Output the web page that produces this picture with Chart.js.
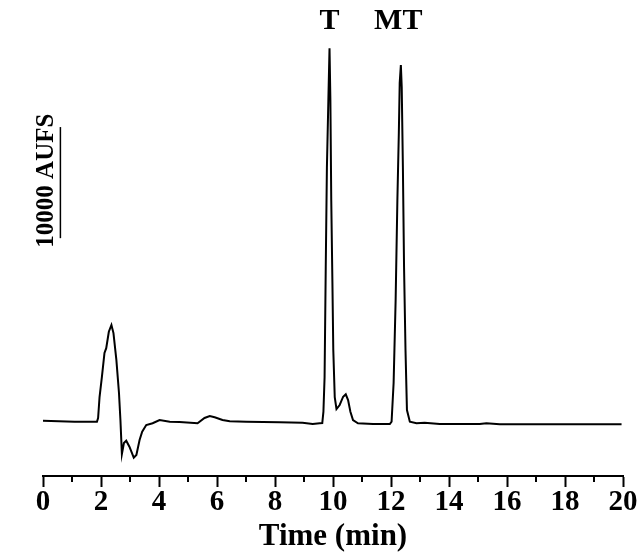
<!DOCTYPE html>
<html>
<head>
<meta charset="utf-8">
<title>Chromatogram</title>
<script src="https://cdn.jsdelivr.net/npm/chart.js@4.4.1/dist/chart.umd.min.js"></script>
<style>
  html, body { margin: 0; padding: 0; background: #fff; }
  #wrap { width: 640px; height: 554px; }
</style>
</head>
<body>
<div id="wrap"><canvas id="chrom"></canvas></div>
<script>
// retention time (min) and detector signal (AUFS)
const times = [0.00, 1.09, 1.86, 1.90, 1.95, 2.03, 2.12, 2.18, 2.27, 2.36, 2.43, 2.53, 2.62, 2.67,
  2.72, 2.79, 2.87, 2.98, 3.13, 3.22, 3.33, 3.42, 3.56, 3.78, 4.02, 4.37, 4.71, 5.33, 5.57,
  5.75, 5.92, 6.19, 6.44, 7.01, 8.16, 8.95, 9.30, 9.54, 9.63, 9.67, 9.71, 9.75, 9.79, 9.84,
  9.88, 9.91, 9.94, 9.98, 10.01, 10.06, 10.12, 10.23, 10.35, 10.44, 10.52, 10.60, 10.69,
  10.86, 11.38, 11.96, 12.02, 12.09, 12.16, 12.22, 12.27, 12.30, 12.34, 12.37, 12.41, 12.45,
  12.50, 12.55, 12.65, 12.88, 13.16, 13.68, 15.06, 15.29, 15.75, 19.95];
const signal = [70, -20, -20, 300, 2200, 4000, 6170, 6600, 8080, 8690, 7960, 5540, 2570, 135,
  -2925, -1935, -1730, -2270, -3260, -3015, -1665, -920, -315, -160, 135, -20, -45, -160, 315,
  495, 380, 135, 20, -20, -70, -110, -225, -160, -135, 880, 4000, 13900, 22900, 28900,
  33600, 28900, 19900, 12465, 6435, 2200, 1125, 1485, 2230, 2450, 1935, 880, 135,
  -160, -225, -225, -20, 3465, 10935, 19935, 25965, 30465, 32085, 30105, 22905, 13905,
  6435, 1035, -20, -160, -120, -225, -225, -160, -250, -250];

const xTicks = [0, 2, 4, 6, 8, 10, 12, 14, 16, 18, 20];
const minorTicks = [1, 3, 5, 7, 9, 11, 13, 15, 17, 19];

const peakNames = ['T', 'MT'];
const peakTimes = [9.88, 12.25];

const scaleBar = [16500, 26500];   // 10000 AUFS
const scaleBarLabel = '10000 AUFS';

const serif = '"Liberation Serif", "Times New Roman", serif';

const points = times.map((t, i) => ({ x: t, y: signal[i] }));

// short ticks at the odd minutes
const minorTickPlugin = {
  id: 'minorTicks',
  afterDraw(chart) {
    const ctx = chart.ctx;
    const xs = chart.scales.x;
    const y0 = chart.chartArea.bottom;
    ctx.save();
    ctx.strokeStyle = '#000';
    ctx.lineWidth = 2;
    minorTicks.forEach(v => {
      const px = xs.getPixelForValue(v);
      ctx.beginPath();
      ctx.moveTo(px, y0);
      ctx.lineTo(px, y0 + 6);
      ctx.stroke();
    });
    ctx.restore();
  }
};

// peak names and the AUFS scale bar
const labelPlugin = {
  id: 'peakLabels',
  afterDraw(chart) {
    const ctx = chart.ctx;
    const xs = chart.scales.x;
    const ys = chart.scales.y;
    ctx.save();
    ctx.fillStyle = '#000';
    ctx.font = 'bold 30px ' + serif;
    ctx.textAlign = 'center';
    ctx.textBaseline = 'middle';
    peakNames.forEach((name, i) => {
      ctx.fillText(name, xs.getPixelForValue(peakTimes[i]), 21);
    });

    const barX = xs.getPixelForValue(0.6);
    const yA = ys.getPixelForValue(scaleBar[0]);
    const yB = ys.getPixelForValue(scaleBar[1]);
    ctx.strokeStyle = '#000';
    ctx.lineWidth = 1.5;
    ctx.beginPath();
    ctx.moveTo(barX, yA);
    ctx.lineTo(barX, yB);
    ctx.stroke();

    ctx.translate(barX - 14, (yA + yB) / 2 - 2);
    ctx.rotate(-Math.PI / 2);
    ctx.font = 'bold 25px ' + serif;
    ctx.fillText(scaleBarLabel, 0, 0);
    ctx.restore();
  }
};

new Chart(document.getElementById('chrom'), {
  type: 'line',
  data: {
    datasets: [{
      data: points,
      borderColor: '#000',
      borderWidth: 2,
      pointRadius: 0,
      tension: 0,
      fill: false
    }]
  },
  options: {
    responsive: true,
    maintainAspectRatio: false,
    animation: false,
    layout: { padding: { left: 43, right: 17, top: 10, bottom: 0 } },
    plugins: {
      legend: { display: false },
      tooltip: { enabled: false }
    },
    scales: {
      x: {
        type: 'linear',
        min: 0,
        max: 20,
        afterBuildTicks(scale) {
          scale.ticks = xTicks.map(v => ({ value: v }));
        },
        afterFit(scale) {
          scale.height = 78;
        },
        grid: {
          drawOnChartArea: false,
          drawTicks: true,
          tickLength: 11,
          tickWidth: 2,
          color: '#000'
        },
        border: { display: true, color: '#000', width: 2 },
        ticks: {
          color: '#000',
          padding: 1,
          maxRotation: 0,
          font: { family: serif, size: 29, weight: 'bold', lineHeight: 1 }
        },
        title: {
          display: true,
          text: 'Time (min)',
          color: '#000',
          padding: { top: 0, bottom: 2 },
          font: { family: serif, size: 31, weight: 'bold', lineHeight: 1 }
        }
      },
      y: {
        display: false,
        min: -4905,
        max: 37035
      }
    }
  },
  plugins: [minorTickPlugin, labelPlugin]
});
</script>
</body>
</html>
